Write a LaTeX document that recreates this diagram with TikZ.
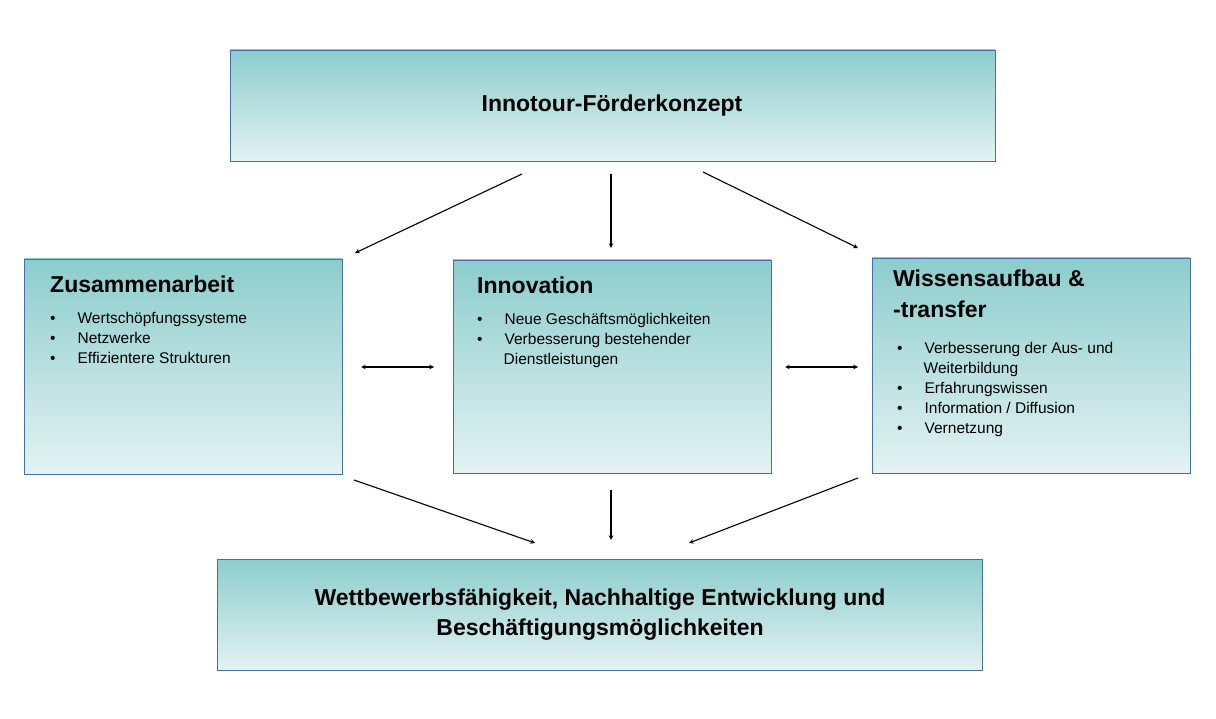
\documentclass[tikz,border=0pt]{standalone}
\usepackage{fontspec}
\setmainfont{Liberation Sans}
\begin{document}
\begin{tikzpicture}[x=1pt,y=-1pt,
  box/.style={draw={rgb,255:red,70;green,110;blue,170},line width=0.8pt,top color={rgb,255:red,140;green,205;blue,205},bottom color={rgb,255:red,228;green,242;blue,242}},
  arr/.style={-stealth,line width=1.1pt},
  darr/.style={stealth-stealth,line width=1.1pt},
  head/.style={font=\fontsize{23}{27}\selectfont\bfseries,anchor=west},
  bl/.style={font=\fontsize{15.5}{20}\selectfont,anchor=north west,align=left,inner sep=0pt}]
\useasboundingbox (0,0) rectangle (1216,719);
\path[box] (230,50) rectangle (995,161) coordinate (topbox);
\node[font=\fontsize{23}{27}\selectfont\bfseries] (t) at (612,106) {Innotour-Förderkonzept};
\path[box] (24,259) rectangle (342,474);
\path[box] (453,260) rectangle (771,473);
\path[box] (872,258) rectangle (1190,473);
\path[box] (217,559) rectangle (982,670);
\node[font=\fontsize{23}{30}\selectfont\bfseries,align=center] (b) at (600,615) {Wettbewerbsfähigkeit, Nachhaltige Entwicklung und\\Beschäftigungsmöglichkeiten};
\node[head,inner sep=0pt] (h1) at (50,284) {Zusammenarbeit};
\node[bl] (l1) at (50,312) {•\hspace{22pt}Wertschöpfungssysteme\\•\hspace{22pt}Netzwerke\\•\hspace{22pt}Effizientere Strukturen};
\node[head,inner sep=0pt] (h2) at (477,285) {Innovation};
\node[bl] (l2) at (477,313) {•\hspace{22pt}Neue Geschäftsmöglichkeiten\\•\hspace{22pt}Verbesserung bestehender\\\hspace{26.5pt}Dienstleistungen};
\node[head,inner sep=0pt,align=left,anchor=north west,font=\fontsize{23}{31}\selectfont\bfseries] (h3) at (893,270) {Wissensaufbau \&\\-transfer};
\node[bl] (l3) at (897,342) {•\hspace{22pt}Verbesserung der Aus- und\\\hspace{26.5pt}Weiterbildung\\•\hspace{22pt}Erfahrungswissen\\•\hspace{22pt}Information / Diffusion\\•\hspace{22pt}Vernetzung};
\coordinate (a1) at (522,174); \coordinate (a1e) at (355,253);
\coordinate (a2) at (611,174); \coordinate (a2e) at (611,248);
\coordinate (a3) at (703,172); \coordinate (a3e) at (858,248);
\coordinate (d1) at (361,367); \coordinate (d1e) at (434,367);
\coordinate (d2) at (785,367); \coordinate (d2e) at (858,367);
\coordinate (c1) at (354,480); \coordinate (c1e) at (535,543);
\coordinate (c2) at (611,490); \coordinate (c2e) at (611,540);
\coordinate (c3) at (858,478); \coordinate (c3e) at (689,543);
\draw[arr] (a1)--(a1e); \draw[arr] (a2)--(a2e); \draw[arr] (a3)--(a3e);
\draw[darr] (d1)--(d1e); \draw[darr] (d2)--(d2e);
\draw[arr] (c1)--(c1e); \draw[arr] (c2)--(c2e); \draw[arr] (c3)--(c3e);
\end{tikzpicture}
\end{document}
